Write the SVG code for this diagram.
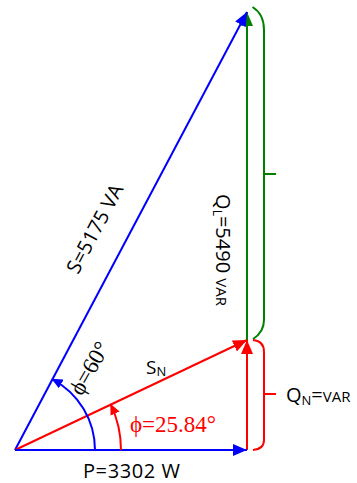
<svg xmlns="http://www.w3.org/2000/svg" width="357" height="483" viewBox="0 0 357 483">
<style>
.l{fill:none;stroke-width:2}
.b{stroke:#0000ff}.r{stroke:#ff0000}.g{stroke:#008000}
.t{font-family:"Open Sans","Liberation Sans",sans-serif;fill:#000}
.s{font-family:"Liberation Serif",serif}
</style>
<defs>
<marker id="ab" markerUnits="userSpaceOnUse" markerWidth="16" markerHeight="12" refX="14" refY="6" orient="auto"><path d="M0,0L14,6L0,12z" fill="#0000ff"/></marker>
<marker id="ar" markerUnits="userSpaceOnUse" markerWidth="16" markerHeight="12" refX="14" refY="6" orient="auto"><path d="M0,0L14,6L0,12z" fill="#ff0000"/></marker>
<marker id="ag" markerUnits="userSpaceOnUse" markerWidth="16" markerHeight="12" refX="14" refY="6" orient="auto"><path d="M0,0L14,6L0,12z" fill="#008000"/></marker>
<marker id="sb" markerUnits="userSpaceOnUse" markerWidth="12" markerHeight="10" refX="10" refY="5" orient="auto"><path d="M0,0L11,5L0,10z" fill="#0000ff"/></marker>
<marker id="sr" markerUnits="userSpaceOnUse" markerWidth="12" markerHeight="10" refX="10" refY="5" orient="auto"><path d="M0,0L11,5L0,10z" fill="#ff0000"/></marker>
</defs>
<g id="connectors">
<path class="l g" d="M247,340L247,12" marker-end="url(#ag)"/>
<path class="l b" d="M15,450L247,12" marker-end="url(#ab)"/>
<path class="l r" d="M247,450L247,340" marker-end="url(#ar)"/>
<path class="l r" d="M15,450L247,340" marker-end="url(#ar)"/>
<path class="l b" d="M15,450L247,450" marker-end="url(#ab)"/>
<path class="l b" d="M95,450A80,80 0 0 0 52.4,379.3" marker-end="url(#sb)"/>
<path class="l r" d="M121,450A106,106 0 0 0 110.8,404.6" marker-end="url(#sr)"/>
<path class="l g" d="M252.5,7Q264,14 264,30L264,320Q264,332 253,339M264,174L276,174"/>
<path class="l r" d="M253,340Q264,341 264,352L264,440Q264,449 253,450M264,394L276,394"/>
</g>
<g id="label-S"><text class="t" font-size="20" text-anchor="middle" transform="translate(101,232) rotate(-62)">S=5175 VA</text></g>
<g id="label-QL"><text class="t" font-size="20" text-anchor="middle" transform="translate(216,250) rotate(90)">Q<tspan font-size="12" dy="3">L</tspan><tspan dy="-3">=5490 </tspan><tspan font-size="15">VAR</tspan></text></g>
<g id="label-SN"><text class="t" font-size="19" x="146" y="374">S<tspan font-size="13" dy="2">N</tspan></text></g>
<g id="label-phi60"><text class="s" font-size="23" text-anchor="middle" transform="translate(96,372) rotate(-60)">ϕ=60°</text></g>
<g id="label-phi25"><text class="s" font-size="23" fill="#ff0000" x="130" y="432">ϕ=25.84°</text></g>
<g id="label-P"><text class="t" font-size="20" x="83" y="478" textLength="97">P=3302 W</text></g>
<g id="label-QN"><text class="t" font-size="20" x="286" y="402">Q<tspan font-size="13" dy="3">N</tspan><tspan dy="-3">=</tspan><tspan font-size="15">VAR</tspan></text></g>
</svg>
